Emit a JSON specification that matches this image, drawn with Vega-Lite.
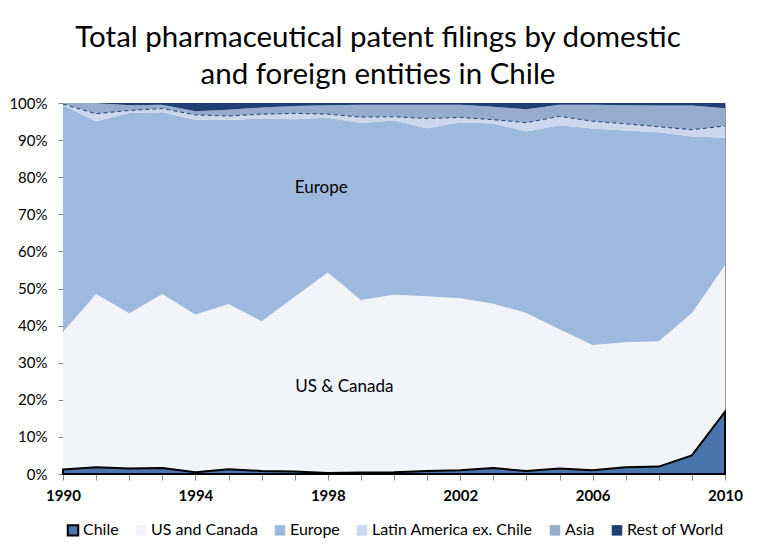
{
  "$schema": "https://vega.github.io/schema/vega-lite/v6.json",
  "width": 662,
  "height": 371,
  "autosize": {"type": "none"},
  "padding": {"left": 63, "top": 103, "right": 32, "bottom": 76},
  "background": "white",
  "title": {
    "text": ["Total pharmaceutical patent filings by domestic", "and foreign entities in Chile"],
    "font": "Lato",
    "fontSize": 29.5,
    "fontWeight": "normal",
    "color": "#000000",
    "anchor": "middle",
    "dx": -16,
    "offset": 6,
    "lineHeight": 37
  },
  "config": {
    "view": {"stroke": "#9a9a9a", "strokeWidth": 1},
    "axis": {
      "grid": false,
      "domainColor": "#868686",
      "tickColor": "#868686",
      "labelFont": "Lato",
      "labelFontSize": 15,
      "labelColor": "#000000"
    },
    "legend": {
      "orient": "bottom",
      "direction": "horizontal",
      "symbolType": "square",
      "symbolSize": 110,
      "labelFont": "Lato",
      "labelFontSize": 16,
      "labelColor": "#000000",
      "labelLimit": 0,
      "columnPadding": 12,
      "labelOffset": 2,
      "offset": 19,
      "layout": {"bottom": {"anchor": "middle"}}
    }
  },
  "datasets": {
    "shares": [
      {"year":1990,"series":"Chile","share":1.2},{"year":1990,"series":"US and Canada","share":37.1},{"year":1990,"series":"Europe","share":61.1},{"year":1990,"series":"Latin America ex. Chile","share":0.3},{"year":1990,"series":"Asia","share":0.3},{"year":1990,"series":"Rest of World","share":0.0},
      {"year":1991,"series":"Chile","share":1.8},{"year":1991,"series":"US and Canada","share":46.7},{"year":1991,"series":"Europe","share":46.6},{"year":1991,"series":"Latin America ex. Chile","share":2.0},{"year":1991,"series":"Asia","share":2.9},{"year":1991,"series":"Rest of World","share":0.0},
      {"year":1992,"series":"Chile","share":1.5},{"year":1992,"series":"US and Canada","share":41.8},{"year":1992,"series":"Europe","share":54.0},{"year":1992,"series":"Latin America ex. Chile","share":0.7},{"year":1992,"series":"Asia","share":1.4},{"year":1992,"series":"Rest of World","share":0.6},
      {"year":1993,"series":"Chile","share":1.6},{"year":1993,"series":"US and Canada","share":46.9},{"year":1993,"series":"Europe","share":49.0},{"year":1993,"series":"Latin America ex. Chile","share":1.0},{"year":1993,"series":"Asia","share":1.0},{"year":1993,"series":"Rest of World","share":0.5},
      {"year":1994,"series":"Chile","share":0.5},{"year":1994,"series":"US and Canada","share":42.5},{"year":1994,"series":"Europe","share":52.5},{"year":1994,"series":"Latin America ex. Chile","share":1.3},{"year":1994,"series":"Asia","share":1.0},{"year":1994,"series":"Rest of World","share":2.2},
      {"year":1995,"series":"Chile","share":1.3},{"year":1995,"series":"US and Canada","share":44.5},{"year":1995,"series":"Europe","share":49.6},{"year":1995,"series":"Latin America ex. Chile","share":1.1},{"year":1995,"series":"Asia","share":1.7},{"year":1995,"series":"Rest of World","share":1.8},
      {"year":1996,"series":"Chile","share":0.8},{"year":1996,"series":"US and Canada","share":40.4},{"year":1996,"series":"Europe","share":54.6},{"year":1996,"series":"Latin America ex. Chile","share":1.2},{"year":1996,"series":"Asia","share":1.8},{"year":1996,"series":"Rest of World","share":1.2},
      {"year":1997,"series":"Chile","share":0.7},{"year":1997,"series":"US and Canada","share":47.1},{"year":1997,"series":"Europe","share":47.8},{"year":1997,"series":"Latin America ex. Chile","share":1.6},{"year":1997,"series":"Asia","share":2.0},{"year":1997,"series":"Rest of World","share":0.8},
      {"year":1998,"series":"Chile","share":0.3},{"year":1998,"series":"US and Canada","share":54.0},{"year":1998,"series":"Europe","share":41.7},{"year":1998,"series":"Latin America ex. Chile","share":1.0},{"year":1998,"series":"Asia","share":2.4},{"year":1998,"series":"Rest of World","share":0.6},
      {"year":1999,"series":"Chile","share":0.4},{"year":1999,"series":"US and Canada","share":46.5},{"year":1999,"series":"Europe","share":47.7},{"year":1999,"series":"Latin America ex. Chile","share":1.6},{"year":1999,"series":"Asia","share":3.3},{"year":1999,"series":"Rest of World","share":0.5},
      {"year":2000,"series":"Chile","share":0.5},{"year":2000,"series":"US and Canada","share":47.8},{"year":2000,"series":"Europe","share":47.0},{"year":2000,"series":"Latin America ex. Chile","share":1.0},{"year":2000,"series":"Asia","share":3.2},{"year":2000,"series":"Rest of World","share":0.5},
      {"year":2001,"series":"Chile","share":0.8},{"year":2001,"series":"US and Canada","share":47.1},{"year":2001,"series":"Europe","share":45.3},{"year":2001,"series":"Latin America ex. Chile","share":2.6},{"year":2001,"series":"Asia","share":3.7},{"year":2001,"series":"Rest of World","share":0.5},
      {"year":2002,"series":"Chile","share":1.0},{"year":2002,"series":"US and Canada","share":46.4},{"year":2002,"series":"Europe","share":47.4},{"year":2002,"series":"Latin America ex. Chile","share":1.3},{"year":2002,"series":"Asia","share":3.4},{"year":2002,"series":"Rest of World","share":0.5},
      {"year":2003,"series":"Chile","share":1.6},{"year":2003,"series":"US and Canada","share":44.3},{"year":2003,"series":"Europe","share":48.6},{"year":2003,"series":"Latin America ex. Chile","share":1.0},{"year":2003,"series":"Asia","share":3.5},{"year":2003,"series":"Rest of World","share":1.0},
      {"year":2004,"series":"Chile","share":0.8},{"year":2004,"series":"US and Canada","share":42.6},{"year":2004,"series":"Europe","share":48.9},{"year":2004,"series":"Latin America ex. Chile","share":2.4},{"year":2004,"series":"Asia","share":3.6},{"year":2004,"series":"Rest of World","share":1.7},
      {"year":2005,"series":"Chile","share":1.5},{"year":2005,"series":"US and Canada","share":37.5},{"year":2005,"series":"Europe","share":55.0},{"year":2005,"series":"Latin America ex. Chile","share":2.4},{"year":2005,"series":"Asia","share":3.1},{"year":2005,"series":"Rest of World","share":0.5},
      {"year":2006,"series":"Chile","share":1.0},{"year":2006,"series":"US and Canada","share":33.8},{"year":2006,"series":"Europe","share":58.3},{"year":2006,"series":"Latin America ex. Chile","share":2.0},{"year":2006,"series":"Asia","share":4.4},{"year":2006,"series":"Rest of World","share":0.5},
      {"year":2007,"series":"Chile","share":1.8},{"year":2007,"series":"US and Canada","share":33.7},{"year":2007,"series":"Europe","share":57.1},{"year":2007,"series":"Latin America ex. Chile","share":1.8},{"year":2007,"series":"Asia","share":5.0},{"year":2007,"series":"Rest of World","share":0.6},
      {"year":2008,"series":"Chile","share":2.0},{"year":2008,"series":"US and Canada","share":33.8},{"year":2008,"series":"Europe","share":56.3},{"year":2008,"series":"Latin America ex. Chile","share":1.5},{"year":2008,"series":"Asia","share":5.7},{"year":2008,"series":"Rest of World","share":0.7},
      {"year":2009,"series":"Chile","share":5.0},{"year":2009,"series":"US and Canada","share":38.4},{"year":2009,"series":"Europe","share":47.6},{"year":2009,"series":"Latin America ex. Chile","share":1.8},{"year":2009,"series":"Asia","share":6.5},{"year":2009,"series":"Rest of World","share":0.7},
      {"year":2010,"series":"Chile","share":16.8},{"year":2010,"series":"US and Canada","share":39.5},{"year":2010,"series":"Europe","share":34.3},{"year":2010,"series":"Latin America ex. Chile","share":3.2},{"year":2010,"series":"Asia","share":4.8},{"year":2010,"series":"Rest of World","share":1.4}
    ],
    "notes": [
      {"label": "Europe", "year": 1997.8, "hi": 77.1},
      {"label": "US & Canada", "year": 1998.5, "hi": 23.4}
    ]
  },
  "encoding": {
    "x": {
      "field": "year",
      "type": "quantitative",
      "scale": {"domain": [1990, 2010], "nice": false, "zero": false},
      "axis": {
        "title": null,
        "values": [1990,1991,1992,1993,1994,1995,1996,1997,1998,1999,2000,2001,2002,2003,2004,2005,2006,2007,2008,2009,2010],
        "labelExpr": "(datum.value - 1990) % 4 === 0 ? format(datum.value, 'd') : ''",
        "tickSize": 6,
        "labelPadding": 8,
        "labelFontWeight": "bold",
        "labelFontSize": 15,
        "labelOverlap": false,
        "labelFlush": false
      }
    },
    "y": {
      "field": "hi",
      "type": "quantitative",
      "scale": {"domain": [0, 100], "nice": false},
      "axis": {
        "title": null,
        "values": [0,10,20,30,40,50,60,70,80,90,100],
        "labelExpr": "datum.value + '%'",
        "labelOverlap": false,
        "labelFlush": false,
        "tickSize": 5,
        "labelPadding": 11
      }
    }
  },
  "layer": [
    {
      "data": {"name": "shares"},
      "transform": [
        {"calculate": "indexof(['Chile','US and Canada','Europe','Latin America ex. Chile','Asia','Rest of World'], datum.series)", "as": "rank"},
        {"stack": "share", "groupby": ["year"], "sort": [{"field": "rank", "order": "ascending"}], "as": ["lo", "hi"]}
      ],
      "layer": [
        {
          "mark": {"type": "area", "interpolate": "linear"},
          "encoding": {
            "y2": {"field": "lo"},
            "color": {
              "field": "series",
              "type": "nominal",
              "scale": {
                "domain": ["Chile", "US and Canada", "Europe", "Latin America ex. Chile", "Asia", "Rest of World"],
                "range": ["#4a74ac", "#f1f4f9", "#9fb8dd", "#cbd7ec", "#97abcf", "#1f3f75"]
              },
              "legend": {
                "title": null,
                "encode": {
                  "symbols": {
                    "update": {
                      "stroke": {"signal": "datum.value === 'Chile' ? '#000000' : 'transparent'"},
                      "strokeWidth": {"value": 2}
                    }
                  }
                }
              }
            }
          }
        },
        {
          "transform": [{"filter": "datum.series === 'Chile'"}],
          "mark": {"type": "area", "interpolate": "linear", "fill": "transparent", "stroke": "#000000", "strokeWidth": 2},
          "encoding": {
            "y2": {"field": "lo"}
          }
        },
        {
          "transform": [{"filter": "datum.series === 'Latin America ex. Chile'"}],
          "mark": {"type": "line", "interpolate": "linear", "stroke": "#1f3f75", "strokeWidth": 1, "strokeDash": [4, 3]},
          "encoding": {}
        }
      ]
    },
    {
      "data": {"name": "notes"},
      "mark": {"type": "text", "font": "Lato", "fontSize": 17, "color": "#000000", "align": "center", "baseline": "middle"},
      "encoding": {
        "text": {"field": "label"}
      }
    }
  ]
}
